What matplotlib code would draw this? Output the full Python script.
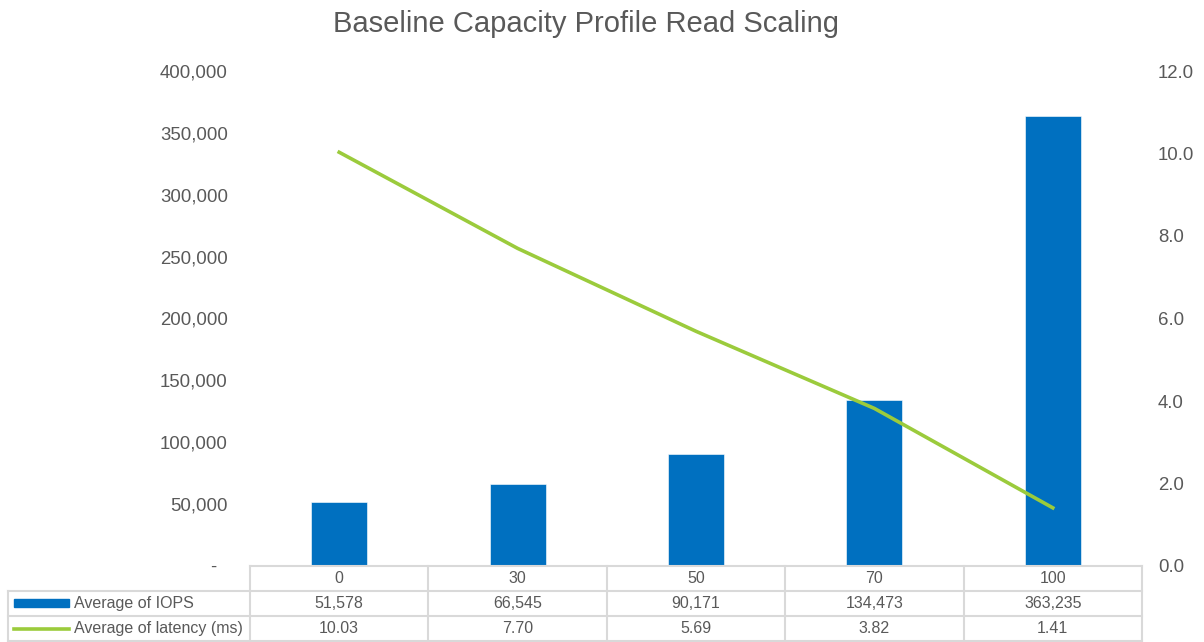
import numpy as np
import matplotlib
matplotlib.use('Agg')
import matplotlib.pyplot as plt
import matplotlib.transforms as mtransforms
from matplotlib.lines import Line2D
from matplotlib.patches import Rectangle
from matplotlib.ticker import FuncFormatter

# Dados
categorias = ['0', '30', '50', '70', '100']
iops = [51578, 66545, 90171, 134473, 363235]
latencia = [10.03, 7.70, 5.69, 3.82, 1.41]
titulo = 'Baseline Capacity Profile Read Scaling'
serie_iops = 'Average of IOPS'
serie_lat = 'Average of latency (ms)'

AZUL = '#0070C0'
VERDE = '#9BCB3C'
CINZA_TXT = '#595959'
CINZA_GRADE = '#D9D9D9'

plt.rcParams['font.family'] = ['Liberation Sans', 'DejaVu Sans']

W, H = 1204, 642
fig = plt.figure(figsize=(W / 100, H / 100), dpi=100)


def fx(px):
    return px / W


def fy(py):
    return 1 - py / H


ax = fig.add_axes([fx(250), fy(566), fx(1142) - fx(250), fy(71) - fy(566)])
x = np.arange(len(categorias))

ax.bar(x, iops, width=0.315, color=AZUL, edgecolor='white', linewidth=0.4, zorder=2)
ax.set_xlim(-0.5, len(categorias) - 0.5)
ax.set_ylim(0, 400000)
ax.set_yticks(np.arange(0, 400001, 50000))
ax.yaxis.set_major_formatter(FuncFormatter(lambda v, p: '-  ' if v == 0 else f'{v:,.0f}'))
ax.set_xticks([])
ax.tick_params(axis='y', length=0, pad=16, labelsize=13.4, labelcolor=CINZA_TXT)
for s in ax.spines.values():
    s.set_visible(False)

ax2 = ax.twinx()
ax2.plot(x, latencia, color=VERDE, linewidth=2.6, zorder=3)
ax2.set_ylim(0, 12)
ax2.set_yticks(np.arange(0, 12.1, 2))
ax2.yaxis.set_major_formatter(FuncFormatter(lambda v, p: f'{v:.1f}'))
ax2.tick_params(axis='y', length=0, pad=11.5, labelsize=13.4, labelcolor=CINZA_TXT)
for s in ax2.spines.values():
    s.set_visible(False)

# Titulo
fig.text(fx(586), fy(32), titulo, ha='center', va='baseline', fontsize=21, color=CINZA_TXT)

# Tabela de dados
trans = mtransforms.blended_transform_factory(ax.transData, fig.transFigure)
lw = 1.5
y_linhas = [566, 591, 616, 641]
fig.add_artist(Line2D([fx(250), fx(1142)], [fy(566), fy(566)], color=CINZA_GRADE, lw=lw))
for yl in y_linhas[1:]:
    fig.add_artist(Line2D([fx(8), fx(1142)], [fy(yl), fy(yl)], color=CINZA_GRADE, lw=lw))
fig.add_artist(Line2D([fx(8), fx(8)], [fy(591), fy(641)], color=CINZA_GRADE, lw=lw))
for b in np.arange(-0.5, len(categorias), 1.0):
    fig.add_artist(Line2D([b, b], [fy(566), fy(641)], color=CINZA_GRADE, lw=lw, transform=trans))

fs_tab = 11.5
for i, cat in enumerate(categorias):
    fig.text(i, fy(578.5), cat, transform=trans, ha='center', va='center', fontsize=fs_tab, color=CINZA_TXT)
    fig.text(i, fy(603.5), f'{iops[i]:,.0f}', transform=trans, ha='center', va='center', fontsize=fs_tab, color=CINZA_TXT)
    fig.text(i, fy(628.5), f'{latencia[i]:.2f}', transform=trans, ha='center', va='center', fontsize=fs_tab, color=CINZA_TXT)

# Legendas das linhas da tabela
fig.add_artist(Rectangle((fx(14), fy(607)), fx(69) - fx(14), fy(599) - fy(607), color=AZUL))
fig.add_artist(Line2D([fx(14), fx(69)], [fy(629), fy(629)], color=VERDE, lw=2.6))
fig.text(fx(74), fy(603.5), serie_iops, ha='left', va='center', fontsize=fs_tab, color=CINZA_TXT)
fig.text(fx(74), fy(628.5), serie_lat, ha='left', va='center', fontsize=fs_tab, color=CINZA_TXT)

plt.savefig('out.png', dpi=100, facecolor='white')
